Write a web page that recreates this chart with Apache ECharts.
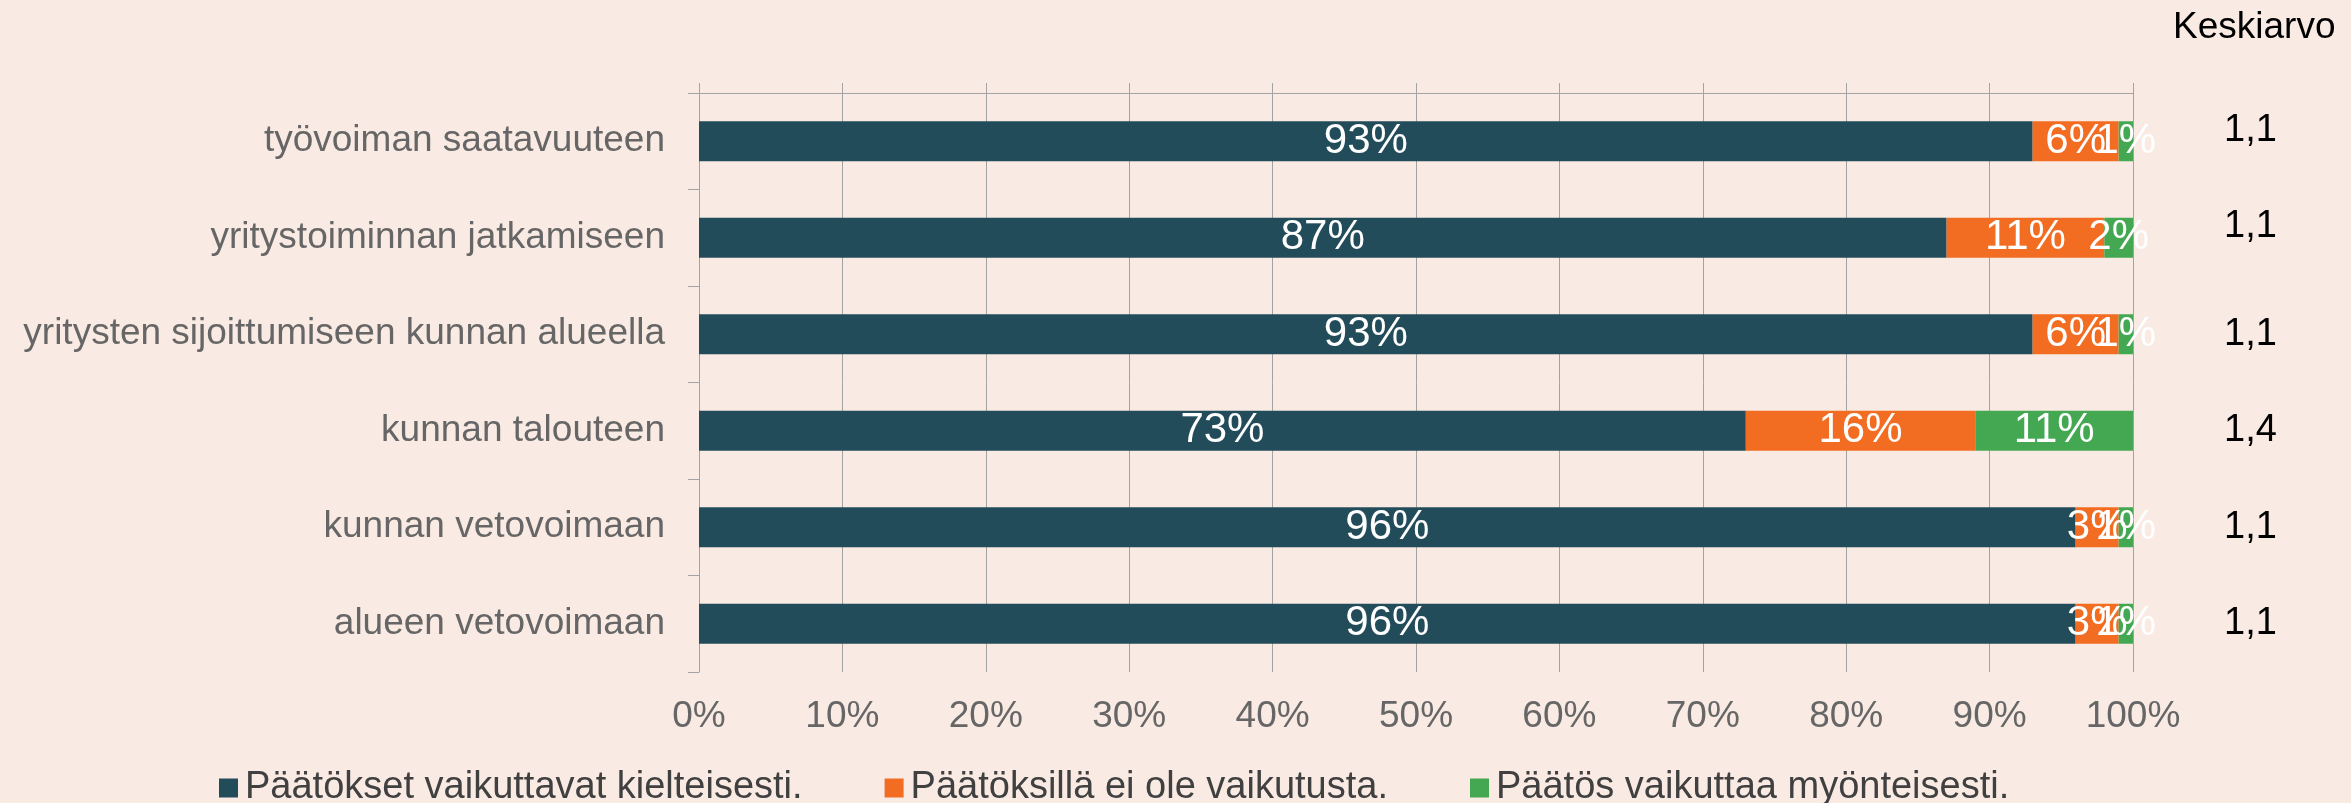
<!DOCTYPE html>
<html>
<head>
<meta charset="utf-8">
<script src="https://cdn.jsdelivr.net/npm/echarts@6/dist/echarts.min.js"></script>
<style>
  html, body { margin: 0; padding: 0; background: #f9eae3; }
  #chart { width: 2351px; height: 803px; }
</style>
</head>
<body>
<div id="chart"></div>
<script>
const categories = [
  'työvoiman saatavuuteen',
  'yritystoiminnan jatkamiseen',
  'yritysten sijoittumiseen kunnan alueella',
  'kunnan talouteen',
  'kunnan vetovoimaan',
  'alueen vetovoimaan'
]
const negative = [93, 87, 93, 73, 96, 96]
const noEffect = [6, 11, 6, 16, 3, 3]
const positive = [1, 2, 1, 11, 1, 1]
const averages = ['1,1', '1,1', '1,1', '1,4', '1,1', '1,1']
const seriesNames = [
  'Päätökset vaikuttavat kielteisesti.',
  'Päätöksillä ei ole vaikutusta.',
  'Päätös vaikuttaa myönteisesti.'
]

const font = '"Liberation Sans", Arial, sans-serif'
const gridColor = '#a3a3a3'

const chart = echarts.init(document.getElementById('chart'))

function barSeries(name, data) {
  return {
    name: name,
    type: 'bar',
    stack: 'total',
    barWidth: 40,
    data: data,
    label: {
      show: true,
      position: 'inside',
      color: '#fff',
      fontFamily: font,
      fontSize: 42,
      formatter: p => p.value + '%'
    }
  }
}

chart.setOption({
  backgroundColor: '#f9eae3',
  color: ['#234c5b', '#f26c22', '#44a853'],
  textStyle: { fontFamily: font },
  title: {
    text: 'Keskiarvo',
    left: 2168,
    top: 4,
    textStyle: { fontFamily: font, fontSize: 37, fontWeight: 'normal', color: '#000' }
  },
  grid: {
    left: 699,
    right: 218,
    top: 93,
    bottom: 131
  },
  legend: {
    left: 214,
    top: 764,
    itemWidth: 19,
    itemHeight: 19,
    itemGap: 82,
    icon: 'rect',
    textStyle: { fontFamily: font, fontSize: 38, color: '#404040', padding: [0, 0, 0, 2] },
    data: seriesNames
  },
  xAxis: [
    {
      type: 'value',
      position: 'bottom',
      min: 0,
      max: 100,
      interval: 10,
      axisLine: { show: false },
      axisTick: { show: false },
      splitLine: { show: true, lineStyle: { color: gridColor, width: 1 } },
      axisLabel: {
        margin: 26,
        fontFamily: font,
        fontSize: 37,
        color: '#666',
        formatter: '{value}%'
      }
    },
    {
      type: 'value',
      position: 'top',
      min: 0,
      max: 100,
      interval: 10,
      axisLine: { show: true, lineStyle: { color: gridColor, width: 1 } },
      axisTick: { show: true, length: 10, lineStyle: { color: gridColor, width: 1 } },
      splitLine: { show: false },
      axisLabel: { show: false }
    }
  ],
  yAxis: [
    {
      type: 'category',
      inverse: true,
      data: categories,
      axisLine: { show: true, lineStyle: { color: gridColor, width: 1 } },
      axisTick: { show: true, length: 11, lineStyle: { color: gridColor, width: 1 } },
      axisLabel: {
        margin: 34,
        fontFamily: font,
        fontSize: 37,
        color: '#666'
      }
    },
    {
      type: 'category',
      inverse: true,
      position: 'right',
      data: averages,
      axisLine: { show: false },
      axisTick: { show: false },
      axisLabel: {
        margin: 91,
        fontFamily: font,
        fontSize: 38,
        color: '#000',
        // kaksi ylintä keskiarvoa on kuvassa hieman palkin keskikohdan yläpuolella
        formatter: (v, i) => i < 2 ? '{up|' + v + '}' : v,
        rich: {
          up: { fontFamily: font, fontSize: 38, color: '#000', padding: [0, 0, 22, 0] }
        }
      }
    }
  ],
  series: [
    barSeries(seriesNames[0], negative),
    barSeries(seriesNames[1], noEffect),
    barSeries(seriesNames[2], positive)
  ]
})
</script>
</body>
</html>
